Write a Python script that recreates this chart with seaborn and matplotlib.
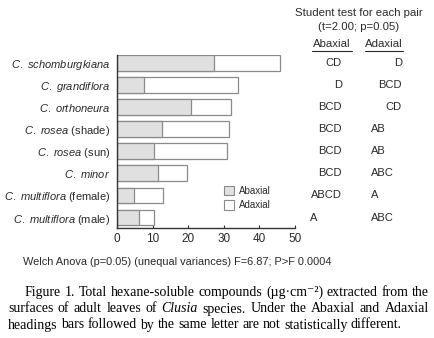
import matplotlib
matplotlib.use('Agg')
import matplotlib.pyplot as plt
import matplotlib.transforms as mtransforms
from matplotlib.patches import Patch
import seaborn as sns
import pandas as pd

# ---- data
species = ['C. schomburgkiana', 'C. grandiflora', 'C. orthoneura', 'C. rosea',
           'C. rosea', 'C. minor', 'C. multiflora', 'C. multiflora']
notes = ['', '', '', '(shade)', '(sun)', '', '(female)', '(male)']
abaxial = [27.3, 7.6, 20.6, 12.7, 10.2, 11.4, 4.6, 6.2]
total = [45.9, 34.0, 32.1, 31.5, 30.8, 19.7, 12.8, 10.4]
letters_ab = ['CD', 'D', 'BCD', 'BCD', 'BCD', 'BCD', 'ABCD', 'A']
letters_ad = ['D', 'BCD', 'CD', 'AB', 'AB', 'ABC', 'A', 'ABC']
xticks = [0, 10, 20, 30, 40, 50]

welch = 'Welch Anova (p=0.05) (unequal variances) F=6.87; P>F 0.0004'
caption = [
    [('Figure', 'normal'), ('1.', 'normal'), ('Total', 'normal'), ('hexane-soluble', 'normal'),
     ('compounds', 'normal'), ('(µg·cm⁻²)', 'normal'), ('extracted', 'normal'),
     ('from', 'normal'), ('the', 'normal')],
    [('surfaces', 'normal'), ('of', 'normal'), ('adult', 'normal'), ('leaves', 'normal'),
     ('of', 'normal'), ('Clusia', 'italic'), ('species.', 'normal'), ('Under', 'normal'),
     ('the', 'normal'), ('Abaxial', 'normal'), ('and', 'normal'), ('Adaxial', 'normal')],
    [('headings', 'normal'), ('bars', 'normal'), ('followed', 'normal'), ('by', 'normal'),
     ('the', 'normal'), ('same', 'normal'), ('letter', 'normal'), ('are', 'normal'),
     ('not', 'normal'), ('statistically', 'normal'), ('different.', 'normal')],
]

labels = []
for s, n in zip(species, notes):
    it = r'$\mathit{' + s.replace(' ', r'\ ') + '}$'
    labels.append(it + (' ' + n if n else ''))

df = pd.DataFrame({'label': labels, 'abaxial': abaxial, 'total': total})

sns.set_style('white')
SANS = ['Liberation Sans', 'DejaVu Sans']
SERIF = ['Liberation Serif', 'DejaVu Serif']
plt.rcParams['font.family'] = SANS
plt.rcParams['mathtext.fontset'] = 'custom'
plt.rcParams['mathtext.rm'] = 'Liberation Sans'
plt.rcParams['mathtext.it'] = 'Liberation Sans:italic'
TXT = '#2a2a2a'
GREY = '#e0e0e0'
EDGE = '#8a8a8a'
CAP = 10.0

W, H = 435, 338
fig = plt.figure(figsize=(W / 100, H / 100), dpi=100)
ax = fig.add_axes([117.3 / W, 1 - 227.7 / H, 177.7 / W, 172.7 / H])

sns.barplot(data=df, x='total', y='label', color='white', edgecolor=EDGE,
            linewidth=0.9, width=0.72, saturation=1, ax=ax)
sns.barplot(data=df, x='abaxial', y='label', color=GREY, edgecolor=EDGE,
            linewidth=0.9, width=0.72, saturation=1, ax=ax)

ax.set_xlim(0, 50)
ax.set_ylim(7.46, -0.36)
ax.set_xticks(xticks)
ax.set_xlabel('')
ax.set_ylabel('')
sns.despine(ax=ax)
for sp in ['left', 'bottom']:
    ax.spines[sp].set_color('#333333')
    ax.spines[sp].set_linewidth(1.0)
ax.tick_params(axis='y', length=0, pad=5, labelsize=8, labelcolor=TXT)
ax.tick_params(axis='x', direction='in', length=2.5, width=0.8, color='#333333',
               pad=4, labelsize=8.5, labelcolor=TXT, bottom=True)

leg = ax.legend(handles=[Patch(facecolor=GREY, edgecolor=EDGE, linewidth=0.8, label='Abaxial'),
                         Patch(facecolor='white', edgecolor=EDGE, linewidth=0.8, label='Adaxial')],
                loc='upper left', bbox_to_anchor=(224 / W, 1 - 186 / H),
                bbox_transform=fig.transFigure, frameon=False, fontsize=7,
                handlelength=1.0, handleheight=1.1, handletextpad=0.5,
                labelspacing=0.45, borderpad=0, borderaxespad=0)
for t in leg.get_texts():
    t.set_color(TXT)

# ---- right-hand letter columns
tr = mtransforms.blended_transform_factory(fig.transFigure, ax.transData)
for i, (a, d) in enumerate(zip(letters_ab, letters_ad)):
    if i < 7:
        fig.text(342 / W, i, a, transform=tr, ha='right', va='center', fontsize=8, color=TXT)
    else:
        fig.text(310 / W, i, a, transform=tr, ha='left', va='center', fontsize=8, color=TXT)
    if i < 3:
        fig.text(402 / W, i, d, transform=tr, ha='right', va='center', fontsize=8, color=TXT)
    else:
        fig.text(371 / W, i, d, transform=tr, ha='left', va='center', fontsize=8, color=TXT)

fig.text(359 / W, 1 - 13 / H, 'Student test for each pair', ha='center', va='center',
         fontsize=8.2, color=TXT)
fig.text(359 / W, 1 - 27 / H, '(t=2.00; p=0.05)', ha='center', va='center',
         fontsize=8.2, color=TXT)
fig.text(332 / W, 1 - 44 / H, 'Abaxial', ha='center', va='center', fontsize=8.2, color=TXT)
fig.text(384 / W, 1 - 44 / H, 'Adaxial', ha='center', va='center', fontsize=8.2, color=TXT)
fig.add_artist(plt.Line2D([312 / W, 352 / W], [1 - 50.5 / H] * 2, color=TXT, lw=0.8))
fig.add_artist(plt.Line2D([365 / W, 403 / W], [1 - 50.5 / H] * 2, color=TXT, lw=0.8))

fig.text(23 / W, 1 - 262 / H, welch, ha='left', va='center', fontsize=7.9, color=TXT)

# ---- justified caption (last line left as is)
r = fig.canvas.get_renderer()
baselines = [296, 312.5, 328.5]
starts = [25, 8, 8]
space = fig.text(0, 0, 'a a', fontsize=CAP, family=SERIF, alpha=0).get_window_extent(r).width \
    - fig.text(0, 0, 'aa', fontsize=CAP, family=SERIF, alpha=0).get_window_extent(r).width
for k, words in enumerate(caption):
    texts = [fig.text(0, 1 - baselines[k] / H, w, ha='left', va='baseline', fontsize=CAP,
                      family=SERIF, style=s, color='black') for w, s in words]
    widths = [t.get_window_extent(r).width for t in texts]
    if k < len(caption) - 1:
        gap = max((429 - starts[k] - sum(widths)) / (len(words) - 1), 1.5)
    else:
        gap = space
    x = starts[k]
    for t, w in zip(texts, widths):
        t.set_x(x / W)
        x += w + gap

fig.savefig('out.png', dpi=100)
